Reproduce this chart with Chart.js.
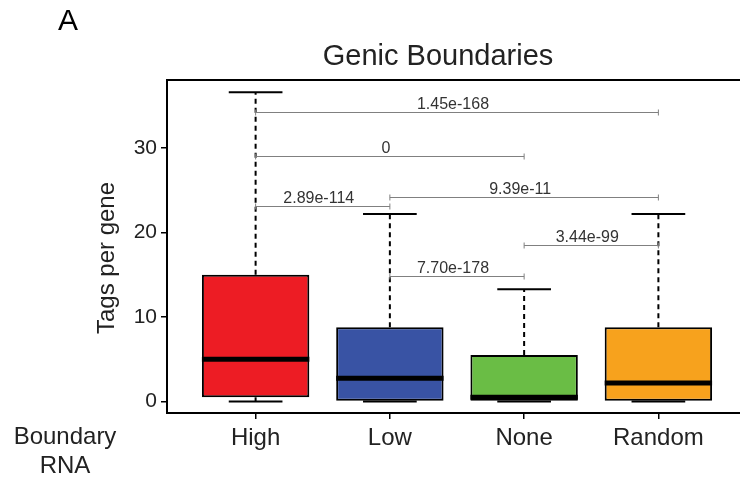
<!DOCTYPE html>
<html><head><meta charset="utf-8">
<style>
html,body{margin:0;padding:0;overflow:hidden;background:#fff;width:740px;height:487px}
#wrap{width:760px;height:487px;position:relative}
</style>
<script src="https://cdn.jsdelivr.net/npm/chart.js@4.4.0/dist/chart.umd.min.js"></script>
</head><body><div id="wrap"><canvas id="c" width="760" height="487"></canvas></div>
<script>
const categories = ['High','Low','None','Random'];
const q1 = [0.5, 0, 0, 0];
const medians = [5, 2.75, 0.5, 2.2];
const q3 = [15, 8.8, 5.5, 8.8];
const whiskerLow = [0, 0, 0, 0];
const whiskerHigh = [36.6, 22.2, 13.3, 22.2];
const boxColors = ['#ED1C24', '#3953A4', '#6ABD45', '#F7A21D'];
const yTicks = [0, 10, 20, 30];
const compFrom = ['High', 'High', 'High', 'Low', 'None', 'Low'];
const compTo = ['Random', 'None', 'Low', 'Random', 'Random', 'None'];
const compY = [34.3, 29.1, 23.1, 24.2, 18.5, 14.85];
const compLabel = ['1.45e-168', '0', '2.89e-114', '9.39e-11', '3.44e-99', '7.70e-178'];

const FONT = "'Liberation Sans', Arial, Helvetica, sans-serif";
const TXT = '#222';

const extras = {
  id: 'extras',
  afterDatasetsDraw(chart) {
    const {ctx, scales: {x, y}, chartArea: ca} = chart;
    const meta = chart.getDatasetMeta(0);
    ctx.save();
    const seg = (x1, y1, x2, y2) => { ctx.beginPath(); ctx.moveTo(x1, y1); ctx.lineTo(x2, y2); ctx.stroke(); };
    categories.forEach((c, i) => {
      const bar = meta.data[i];
      const xc = bar.x, half = bar.width / 2, capHalf = half / 2;
      ctx.strokeStyle = '#000';
      ctx.lineWidth = 2;
      ctx.setLineDash([5, 4]);
      seg(xc, y.getPixelForValue(q3[i]), xc, y.getPixelForValue(whiskerHigh[i]));
      ctx.setLineDash([]);
      if (q1[i] > whiskerLow[i]) {
        seg(xc, y.getPixelForValue(q1[i]), xc, y.getPixelForValue(whiskerLow[i]));
      }
      seg(xc - capHalf, y.getPixelForValue(whiskerHigh[i]), xc + capHalf, y.getPixelForValue(whiskerHigh[i]));
      seg(xc - capHalf, y.getPixelForValue(whiskerLow[i]), xc + capHalf, y.getPixelForValue(whiskerLow[i]));
      ctx.lineWidth = 5;
      seg(xc - half, y.getPixelForValue(medians[i]), xc + half, y.getPixelForValue(medians[i]));
    });
    // comparison brackets
    ctx.strokeStyle = '#808080';
    ctx.lineWidth = 1;
    ctx.fillStyle = '#333';
    ctx.font = '16px ' + FONT;
    ctx.textAlign = 'center';
    ctx.textBaseline = 'alphabetic';
    compLabel.forEach((lab, k) => {
      const x1 = x.getPixelForValue(categories.indexOf(compFrom[k]) + 1);
      const x2 = x.getPixelForValue(categories.indexOf(compTo[k]) + 1);
      const yy = Math.round(y.getPixelForValue(compY[k])) + 0.5;
      seg(x1, yy, x2, yy);
      seg(x1, yy - 3, x1, yy + 3);
      seg(x2, yy - 3, x2, yy + 3);
      ctx.fillText(lab, (x1 + x2) / 2 - 4, yy - 4);
    });
    // frame top
    ctx.strokeStyle = '#000';
    ctx.lineWidth = 2;
    seg(ca.left - 1, ca.top, ca.right, ca.top);
    seg(ca.right, ca.top, ca.right, ca.bottom);
    ctx.restore();
  },
  afterDraw(chart) {
    const {ctx} = chart;
    ctx.save();
    ctx.fillStyle = '#000';
    ctx.textAlign = 'center';
    ctx.textBaseline = 'middle';
    ctx.font = '30px ' + FONT;
    ctx.fillText('A', 68, 22);
    ctx.fillStyle = TXT;
    ctx.font = '29px ' + FONT;
    ctx.fillText('Genic Boundaries', 438, 57);
    ctx.font = '24px ' + FONT;
    ctx.fillText('Boundary', 65, 437);
    ctx.fillText('RNA', 65, 466);
    ctx.translate(107, 258);
    ctx.rotate(-Math.PI / 2);
    ctx.fillText('Tags per gene', 0, 0);
    ctx.restore();
  }
};

new Chart(document.getElementById('c'), {
  type: 'bar',
  data: {
    datasets: [{
      data: categories.map((c, i) => ({x: i + 1, y: [q1[i], q3[i]]})),
      backgroundColor: boxColors,
      borderColor: '#000',
      borderWidth: 2,
      borderSkipped: false,
      barPercentage: 1,
      categoryPercentage: 0.8,
      grouped: false
    }]
  },
  options: {
    responsive: false,
    animation: false,
    layout: {padding: {left: 0, top: 80, right: 13, bottom: 0}},
    plugins: {legend: {display: false}, tooltip: {enabled: false}, title: {display: false}},
    scales: {
      x: {
        type: 'linear',
        min: 0.34, max: 4.66,
        offset: false,
        afterBuildTicks(s) { s.ticks = categories.map((c, i) => ({value: i + 1})); },
        afterFit(s) { s.height = 74; },
        grid: {offset: false, drawOnChartArea: false, drawTicks: true, tickLength: 6, color: '#000', lineWidth: 1.5},
        border: {display: true, color: '#000', width: 2},
        ticks: {
          autoSkip: false, maxRotation: 0, padding: 5, color: TXT,
          font: {family: FONT, size: 24},
          callback: (v) => categories[v - 1]
        }
      },
      y: {
        type: 'linear',
        min: -1.36, max: 38.05,
        afterBuildTicks(s) { s.ticks = yTicks.map(v => ({value: v})); },
        afterFit(s) { s.width = 167; },
        grid: {drawOnChartArea: false, drawTicks: true, tickLength: 6, color: '#000', lineWidth: 1.5},
        border: {display: true, color: '#000', width: 2},
        ticks: {padding: 4, color: TXT, font: {family: FONT, size: 21}}
      }
    }
  },
  plugins: [extras]
});
</script>
</body></html>
